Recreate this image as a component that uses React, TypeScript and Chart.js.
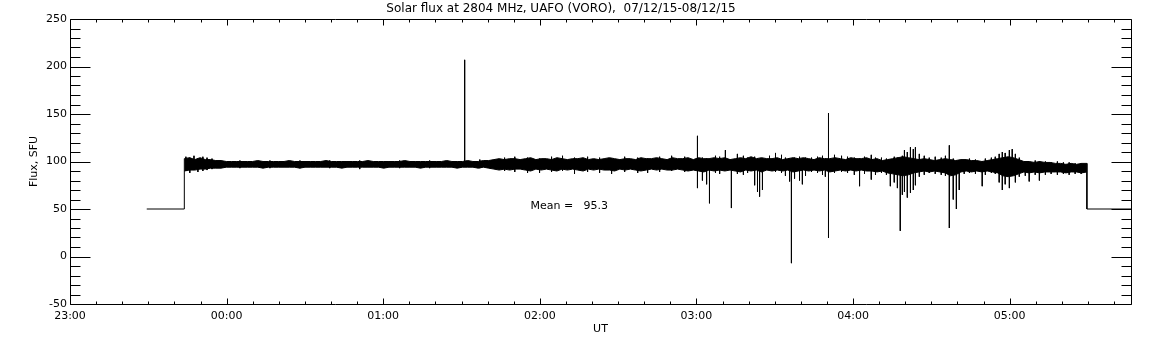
import React, { useEffect, useRef } from 'react';
import { Chart, registerables } from 'chart.js';

Chart.register(...registerables);

const TITLE = 'Solar flux at 2804 MHz, UAFO (VORO),  07/12/15-08/12/15';
const X_TITLE = 'UT';
const Y_TITLE = 'Flux, SFU';
const MEAN_LABEL = 'Mean =   95.3';
const FONT = '"DejaVu Sans", sans-serif';

// x axis: minutes after 23:00 UT
const xTickMinutes = [0, 60, 120, 180, 240, 300, 360];
const xTickLabels = ['23:00', '00:00', '01:00', '02:00', '03:00', '04:00', '05:00'];
const xMinorStep = 10;
const yTickValues = [-50, 0, 50, 100, 150, 200, 250];
const yMinorStep = 10;
const X_MIN = 0;
const X_MAX = 406.5;
const Y_MIN = -50;
const Y_MAX = 250;

// Dense core of the record (2-min envelope), start/end in minutes after 23:00
const bandStart = 43.8;
const bandEnd = 389.6;
const bandHigh = [
  103, 104, 102, 104, 102, 102,
  101, 101, 100, 100, 100,
  100, 100, 100, 101, 100, 100, 100, 100, 100, 101,
  100, 100, 100, 100, 100, 100, 101, 100, 100, 100,
  100, 100, 100, 100, 101, 100, 100, 100, 100, 100,
  100, 101, 100, 100, 100, 100, 100, 100, 100, 101,
  100, 100, 100, 101, 100, 100, 101, 101,
  102, 103, 102, 103, 103, 102, 103, 104, 102, 103,
  103, 102, 104, 103, 102, 103, 103, 104, 102, 103,
  102, 103, 104, 103, 102, 103, 103, 102, 104, 103,
  103, 104, 103, 102, 104, 103, 103, 104, 102, 104,
  103, 103, 104, 103, 104, 102, 103, 104, 103, 105,
  103, 104, 103, 103, 104, 102, 103, 104, 103, 104,
  103, 102, 104, 103, 103, 104, 103, 102, 104, 103,
  103, 104,
  102, 103, 101, 102, 103, 104, 105, 104, 103, 102,
  103, 102, 101, 102, 103, 102, 101, 102, 102, 101,
  101, 100, 101, 102, 103, 104, 105, 104, 102, 100, 100, 99, 100, 99, 99,
  98, 98, 97, 98, 97, 98, 98,
];
const bandLow = [
  90, 91, 91, 92, 92, 93,
  93, 93, 94, 94, 94,
  94, 94, 94, 94, 93, 94, 94, 94, 94, 94,
  94, 93, 94, 94, 94, 94, 94, 94, 94, 93,
  94, 94, 94, 94, 94, 94, 94, 93, 94, 94,
  94, 94, 94, 94, 93, 94, 94, 94, 94, 94,
  94, 93, 94, 94, 94, 93, 94, 93,
  92, 91, 92, 91, 92, 92, 91, 90, 92, 91,
  92, 91, 90, 92, 91, 92, 91, 90, 92, 91,
  92, 91, 91, 90, 92, 91, 92, 91, 90, 91,
  92, 91, 92, 91, 91, 92, 91, 90, 91, 90,
  89, 91, 90, 91, 90, 91, 90, 89, 91, 90,
  91, 89, 91, 90, 91, 90, 91, 89, 90, 91,
  90, 91, 90, 91, 89, 90, 91, 90, 91, 90,
  91, 90,
  90, 89, 90, 88, 87, 86, 85, 86, 88, 89,
  90, 89, 90, 89, 88, 85, 86, 89, 90, 89,
  90, 89, 90, 89, 88, 85, 84, 85, 87, 89, 88, 89, 88, 89, 89,
  89, 89, 88, 89, 89, 88, 89,
];

// Needles (single-sample excursions): time in minutes after 23:00, top and bottom
const needleMinutes = [
  44.4, 45.9, 47.5, 49.0, 50.9, 52.5, 54.4, 65.1, 76.6, 88.1, 99.5, 111.0, 126.3, 137.8,
  151.2, 157.0, 166.5, 170.4, 175.3, 179.9, 184.5, 188.7, 193.3, 198.3, 202.9, 207.5, 212.5,
  217.5, 221.3, 225.9, 230.5, 235.5, 240.4, 242.3, 243.9, 245.0, 247.3, 248.9, 251.1, 253.4,
  255.7, 258.0, 259.6, 262.3, 263.4, 264.2, 265.3, 268.0, 270.3, 272.6, 274.1, 275.7, 276.4,
  277.6, 279.5, 280.6, 281.8, 284.1, 286.4, 288.3, 289.4, 290.6, 292.9, 295.6, 297.9, 300.5,
  302.5, 304.4, 307.0, 308.6, 310.9, 312.8, 314.3, 315.8, 317.0, 318.1, 318.9, 319.7, 320.8,
  322.0, 323.1, 323.9, 325.4, 327.3, 329.2, 331.5, 333.8, 335.4, 336.9, 338.4, 339.6, 340.7,
  342.6, 344.6, 346.9, 349.5, 350.7, 353.0, 354.5, 356.0, 357.2, 358.3, 359.9, 361.0, 362.2,
  363.7, 366.0, 367.5, 369.8, 371.4, 373.7, 375.9, 378.3, 380.6, 382.8, 385.1, 387.4,
];
const needleHigh = [
  105, 104, 106, 103, 105, 104, 103, 101, 101, 101, 101, 101, 101, 101,
  207, 102, 104, 105, 104, 103, 105, 106, 104, 105, 104, 103, 105,
  104, 103, 105, 106, 105, 127, 104, 103, 98, 106, 105, 112, 98,
  108, 106, 104, 105, 103, 98, 102, 106, 109, 107, 104, 103, 100,
  104, 105, 103, 104, 104, 105, 106, 103, 151, 107, 106, 105, 104,
  103, 105, 107, 104, 104, 103, 102, 105, 104, 100, 106, 112, 110,
  115, 113, 115, 108, 106, 104, 105, 104, 106, 117, 103, 98, 101,
  101, 103, 102, 100, 103, 104, 105, 108, 110, 109, 112, 113, 108,
  104, 100, 99, 101, 100, 100, 99, 100, 99, 99, 98, 98,
];
const needleLow = [
  90, 88, 91, 89, 90, 91, 92, 93, 93, 93, 93, 92, 93, 93,
  96, 93, 90, 89, 88, 88, 89, 90, 87, 89, 88, 87, 89,
  88, 88, 89, 90, 89, 72, 80, 76, 56, 88, 87, 95, 51,
  87, 86, 88, 75, 68, 63, 70, 90, 89, 88, 85, 79, -7,
  82, 80, 76, 85, 89, 88, 86, 84, 19.5, 88, 89, 88, 86,
  74, 87, 81, 86, 88, 86, 74, 78, 72, 27, 65, 68, 62,
  67, 70, 75, 84, 86, 88, 87, 86, 85, 30, 60, 50, 70,
  87, 88, 87, 74, 86, 88, 87, 78, 70, 76, 72, 85, 78,
  84, 85, 79, 86, 80, 86, 87, 86, 87, 86, 87, 87,
];

// Calibration level before and after the observation
const leadInMinutes = [29.4, 43.8, 43.8];
const leadInFlux = [50, 50, 103];
const tailMinutes = [389.6, 389.6, 406.5];
const tailFlux = [98, 50, 50];

const MEAN_POS_MINUTES = 176.4;
const MEAN_POS_FLUX = 53;

const framePlugin = {
  id: 'idlFrame',
  afterDatasetsDraw(chart: any) {
    const { ctx, chartArea, scales } = chart;
    const { left, right, top, bottom } = chartArea;
    const xs = scales.x;
    const ys = scales.y;
    const L = Math.round(left) + 0.5;
    const R = Math.round(right) + 0.5;
    const T = Math.round(top) + 0.5;
    const B = Math.round(bottom) + 0.5;
    ctx.save();
    ctx.strokeStyle = '#000';
    ctx.lineWidth = 1;
    ctx.beginPath();
    ctx.rect(L, T, R - L, B - T);
    for (let m = X_MIN; m <= X_MAX + 1e-9; m += xMinorStep) {
      const isMajor = Math.round(m) % 60 === 0;
      const len = isMajor ? 6 : 3;
      const px = Math.round(xs.getPixelForValue(m)) + 0.5;
      ctx.moveTo(px, B);
      ctx.lineTo(px, B - len);
      ctx.moveTo(px, T);
      ctx.lineTo(px, T + len);
    }
    for (let v = Y_MIN; v <= Y_MAX; v += yMinorStep) {
      const isMajor = v % 50 === 0;
      const len = isMajor ? 20 : 10;
      const py = Math.round(ys.getPixelForValue(v)) + 0.5;
      ctx.moveTo(L, py);
      ctx.lineTo(L + len, py);
      ctx.moveTo(R, py);
      ctx.lineTo(R - len, py);
    }
    ctx.stroke();
    ctx.restore();
  },
  afterDraw(chart: any) {
    const { ctx, scales } = chart;
    ctx.save();
    ctx.fillStyle = '#000';
    ctx.font = `12px ${FONT}`;
    ctx.textAlign = 'center';
    ctx.textBaseline = 'middle';
    ctx.fillText(TITLE, 561, 9);
    ctx.font = `11px ${FONT}`;
    ctx.textAlign = 'left';
    ctx.fillText(MEAN_LABEL, scales.x.getPixelForValue(MEAN_POS_MINUTES), scales.y.getPixelForValue(MEAN_POS_FLUX));
    ctx.restore();
  },
};

export default function App() {
  const ref = useRef<HTMLCanvasElement>(null);
  useEffect(() => {
    if (!ref.current) return;
    const n = bandHigh.length;
    const step = (bandEnd - bandStart) / (n - 1);
    const hiPts = bandHigh.map((v, i) => ({ x: bandStart + i * step, y: v }));
    const loPts = bandLow.map((v, i) => ({ x: bandStart + i * step, y: v }));
    const needlePts: any[] = [];
    needleMinutes.forEach((m, i) => {
      needlePts.push({ x: m, y: needleHigh[i] }, { x: m, y: needleLow[i] }, { x: m, y: null });
    });
    const leadPts = leadInMinutes.map((m, i) => ({ x: m, y: leadInFlux[i] }));
    const tailPts = tailMinutes.map((m, i) => ({ x: m, y: tailFlux[i] }));
    const common = { borderColor: '#000', borderWidth: 1, pointRadius: 0, tension: 0 };
    const chart = new Chart(ref.current, {
      type: 'line',
      data: {
        datasets: [
          { ...common, label: 'high', data: hiPts, fill: false },
          { ...common, label: 'low', data: loPts, fill: '-1', backgroundColor: '#000' },
          { ...common, label: 'needles', data: needlePts, fill: false, spanGaps: false },
          { ...common, label: 'lead', data: leadPts, fill: false },
          { ...common, label: 'tail', data: tailPts, fill: false },
        ],
      },
      options: {
        animation: false,
        responsive: true,
        maintainAspectRatio: false,
        layout: { padding: { top: 19, right: 21, left: 0, bottom: 0 } },
        plugins: {
          legend: { display: false },
          tooltip: { enabled: false },
          title: { display: false },
        },
        scales: {
          x: {
            type: 'linear',
            min: X_MIN,
            max: X_MAX,
            grid: { display: false, drawTicks: false },
            border: { display: false },
            afterBuildTicks: (s: any) => {
              s.ticks = xTickMinutes.map((v) => ({ value: v }));
            },
            afterFit: (s: any) => {
              s.height = 41;
            },
            ticks: {
              autoSkip: false,
              maxRotation: 0,
              padding: 6,
              color: '#000',
              font: { family: FONT, size: 11 },
              callback: (v: any) => {
                const i = xTickMinutes.indexOf(Number(v));
                return i >= 0 ? xTickLabels[i] : '';
              },
            },
            title: {
              display: true,
              text: X_TITLE,
              color: '#000',
              font: { family: FONT, size: 11 },
              padding: { top: 0, bottom: 9 },
            },
          },
          y: {
            type: 'linear',
            min: Y_MIN,
            max: Y_MAX,
            grid: { display: false, drawTicks: false },
            border: { display: false },
            afterBuildTicks: (s: any) => {
              s.ticks = yTickValues.map((v) => ({ value: v }));
            },
            afterFit: (s: any) => {
              s.width = 70;
            },
            ticks: {
              autoSkip: false,
              padding: 3,
              color: '#000',
              font: { family: FONT, size: 11 },
              callback: (v: any) => String(v),
            },
            title: {
              display: true,
              text: Y_TITLE,
              color: '#000',
              font: { family: FONT, size: 11 },
              padding: { top: 28, bottom: 0 },
            },
          },
        },
      },
      plugins: [framePlugin],
    });
    return () => chart.destroy();
  }, []);
  return (
    <div style={{ position: 'fixed', left: 0, top: 0, width: 1152, height: 345, background: '#fff' }}>
      <canvas ref={ref} />
    </div>
  );
}
